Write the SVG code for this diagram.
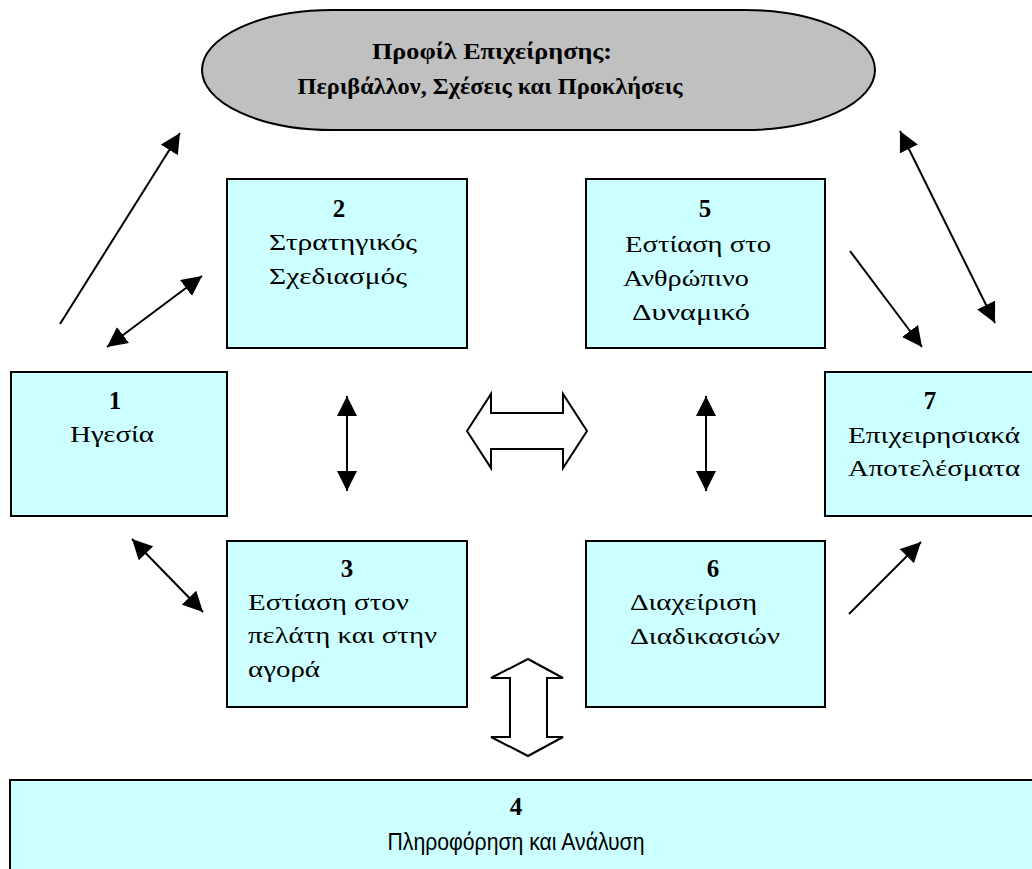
<svg xmlns="http://www.w3.org/2000/svg" width="1032" height="869" viewBox="0 0 1032 869">
  <style>
    .box { fill: #ccffff; stroke: #000; stroke-width: 2; }
    .profile { fill: #c0c0c0; stroke: #000; stroke-width: 2; }
    .t { font-family: "Liberation Serif", "DejaVu Serif", "Times New Roman", serif; font-size: 24px; fill: #000; }
    .num { font-family: "Liberation Serif", "DejaVu Serif", "Times New Roman", serif; font-size: 25px; font-weight: bold; fill: #000; text-anchor: middle; }
    .title { font-family: "Liberation Serif", "DejaVu Serif", "Times New Roman", serif; font-size: 23px; font-weight: bold; fill: #000; text-anchor: middle; }
    .sans { font-family: "Liberation Sans", "DejaVu Sans", Arial, sans-serif; font-size: 24px; fill: #000; text-anchor: middle; }
    .line { stroke: #000; stroke-width: 2; fill: none; }
    .block { fill: #fff; stroke: #000; stroke-width: 2; stroke-linejoin: miter; }
  </style>
  <defs>
    <marker id="head" viewBox="0 0 20 20" markerUnits="userSpaceOnUse" markerWidth="20" markerHeight="20" refX="20" refY="10" orient="auto-start-reverse">
      <path d="M0,0 L20,10 L0,20 z" fill="#000"/>
    </marker>
  </defs>
  <rect width="1032" height="869" fill="#fff"/>

  <g id="profile">
    <path class="profile" d="M332,10 H745 A130,60 0 0 1 745,130 H332 A130,60 0 0 1 332,10 Z"/>
    <text class="title" x="492" y="59" textLength="240" lengthAdjust="spacingAndGlyphs">Προφίλ Επιχείρησης:</text>
    <text class="title" x="490" y="94" textLength="385" lengthAdjust="spacingAndGlyphs">Περιβάλλον, Σχέσεις και Προκλήσεις</text>
  </g>

  <g id="node1">
    <rect class="box" x="11" y="372" width="216" height="144"/>
    <text class="num" x="115" y="409">1</text>
    <text class="t" x="70" y="442" textLength="84" lengthAdjust="spacingAndGlyphs">Ηγεσία</text>
  </g>

  <g id="node2">
    <rect class="box" x="227" y="179" width="240" height="169"/>
    <text class="num" x="339" y="217">2</text>
    <text class="t" x="269" y="250" textLength="148" lengthAdjust="spacingAndGlyphs">Στρατηγικός</text>
    <text class="t" x="269" y="284" textLength="138" lengthAdjust="spacingAndGlyphs">Σχεδιασμός</text>
  </g>

  <g id="node3">
    <rect class="box" x="227" y="541" width="240" height="166"/>
    <text class="num" x="347" y="577">3</text>
    <text class="t" x="248" y="610" textLength="161" lengthAdjust="spacingAndGlyphs">Εστίαση στον</text>
    <text class="t" x="248" y="643" textLength="189" lengthAdjust="spacingAndGlyphs">πελάτη και στην</text>
    <text class="t" x="248" y="677" textLength="72" lengthAdjust="spacingAndGlyphs">αγορά</text>
  </g>

  <g id="node4">
    <rect class="box" x="10" y="780" width="1040" height="120"/>
    <text class="num" x="516" y="815">4</text>
    <text class="sans" x="516" y="850" textLength="257" lengthAdjust="spacingAndGlyphs">Πληροφόρηση και Ανάλυση</text>
  </g>

  <g id="node5">
    <rect class="box" x="586" y="179" width="239" height="169"/>
    <text class="num" x="705" y="217">5</text>
    <text class="t" x="625" y="252" textLength="146" lengthAdjust="spacingAndGlyphs">Εστίαση στο</text>
    <text class="t" x="623" y="286" textLength="126" lengthAdjust="spacingAndGlyphs">Ανθρώπινο</text>
    <text class="t" x="632" y="320" textLength="118" lengthAdjust="spacingAndGlyphs">Δυναμικό</text>
  </g>

  <g id="node6">
    <rect class="box" x="586" y="541" width="239" height="166"/>
    <text class="num" x="713" y="577">6</text>
    <text class="t" x="630" y="610" textLength="127" lengthAdjust="spacingAndGlyphs">Διαχείριση</text>
    <text class="t" x="630" y="644" textLength="150" lengthAdjust="spacingAndGlyphs">Διαδικασιών</text>
  </g>

  <g id="node7">
    <rect class="box" x="825" y="372" width="230" height="144"/>
    <text class="num" x="930" y="409">7</text>
    <text class="t" x="848" y="443" textLength="172" lengthAdjust="spacingAndGlyphs">Επιχειρησιακά</text>
    <text class="t" x="848" y="476" textLength="172" lengthAdjust="spacingAndGlyphs">Αποτελέσματα</text>
  </g>

  <g id="connectors">
    <!-- single-headed arrows -->
    <line class="line" x1="60" y1="324" x2="180" y2="133" marker-end="url(#head)"/>
    <line class="line" x1="850" y1="251" x2="922" y2="347" marker-end="url(#head)"/>
    <line class="line" x1="849" y1="614" x2="921" y2="542" marker-end="url(#head)"/>
    <!-- double-headed arrows -->
    <line class="line" x1="107" y1="347" x2="202" y2="276" marker-start="url(#head)" marker-end="url(#head)"/>
    <line class="line" x1="347" y1="396" x2="347" y2="491" marker-start="url(#head)" marker-end="url(#head)"/>
    <line class="line" x1="706" y1="396" x2="706" y2="491" marker-start="url(#head)" marker-end="url(#head)"/>
    <line class="line" x1="132" y1="539" x2="203" y2="612" marker-start="url(#head)" marker-end="url(#head)"/>
    <line class="line" x1="900" y1="131" x2="995" y2="323" marker-start="url(#head)" marker-end="url(#head)"/>
    <!-- outlined block arrows -->
    <polygon class="block" points="467,431 491,394 491,413 563,413 563,394 587,431 563,468 563,449 491,449 491,468"/>
    <polygon class="block" points="528,659 563,678 547,678 547,737 563,737 528,756 491,737 510,737 510,678 491,678"/>
  </g>
</svg>
